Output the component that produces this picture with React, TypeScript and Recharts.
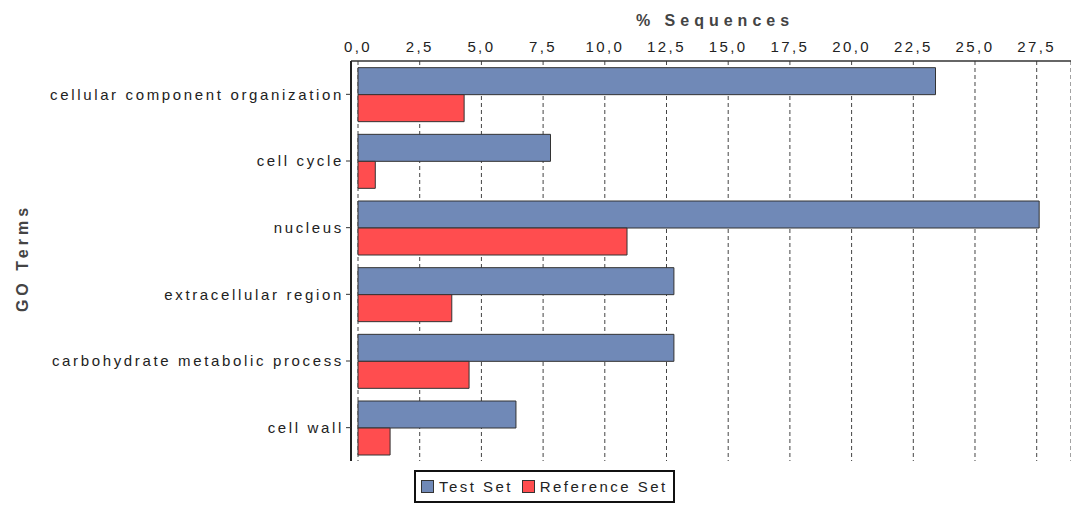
import React from 'react';
import { BarChart, Bar, XAxis, YAxis, CartesianGrid, Legend } from 'recharts';

// GO terms shown top to bottom
const goTerms: string[] = [
  'cellular component organization',
  'cell cycle',
  'nucleus',
  'extracellular region',
  'carbohydrate metabolic process',
  'cell wall',
];

// % of sequences in each set
const testSet: number[] = [23.4, 7.8, 27.6, 12.8, 12.8, 6.4];
const referenceSet: number[] = [4.3, 0.7, 10.9, 3.8, 4.5, 1.3];

const xTicks: number[] = [0, 2.5, 5, 7.5, 10, 12.5, 15, 17.5, 20, 22.5, 25, 27.5];

const TEST_COLOR = '#7089b7';
const REF_COLOR = '#ff4d4f';
const FONT = '"Liberation Sans", Arial, sans-serif';

const chartData = goTerms.map((name, i) => ({
  name,
  test: testSet[i],
  reference: referenceSet[i],
}));

const formatTick = (v: number) => v.toFixed(1).replace('.', ',');

const LegendBox = () => (
  <div
    style={{
      display: 'inline-flex',
      alignItems: 'center',
      border: '2px solid #111',
      padding: '6px 5px',
      background: '#fff',
      fontFamily: FONT,
      fontSize: 15,
      letterSpacing: 2.45,
      color: '#222',
      whiteSpace: 'nowrap',
    }}
  >
    <span style={{ width: 11, height: 11, background: TEST_COLOR, border: '1px solid #333', marginRight: 5 }} />
    <span style={{ marginRight: 9 }}>Test Set</span>
    <span style={{ width: 11, height: 11, background: REF_COLOR, border: '1px solid #333', marginRight: 5 }} />
    <span>Reference Set</span>
  </div>
);

export default function App() {
  return (
    <div style={{ position: 'absolute', left: 0, top: 0, width: 1071, height: 506, background: '#fff' }}>
      <BarChart
        width={1071}
        height={506}
        data={chartData}
        layout="vertical"
        barCategoryGap="10%"
        barGap={0}
        margin={{ top: 31, right: 0, left: 0, bottom: 45 }}
      >
        <CartesianGrid horizontal={false} stroke="#444" strokeDasharray="4 3" />
        <XAxis
          type="number"
          orientation="top"
          domain={[-0.284, 28.89]}
          ticks={xTicks}
          interval={0}
          tickFormatter={formatTick}
          allowDataOverflow
          height={30}
          tickLine={false}
          tickSize={4}
          tickMargin={5}
          axisLine={{ stroke: '#333', strokeWidth: 1.5 }}
          tick={{ fill: '#222', fontSize: 15, fontFamily: FONT, letterSpacing: 2.4 }}
          label={{
            value: '% Sequences',
            position: 'top',
            offset: 5,
            dx: 4,
            style: { fill: '#444', fontSize: 16, fontWeight: 'bold', fontFamily: FONT, letterSpacing: 5 },
          }}
        />
        <YAxis
          type="category"
          dataKey="name"
          width={351}
          interval={0}
          tickSize={5}
          tickMargin={2}
          tickLine={{ stroke: '#333' }}
          axisLine={{ stroke: '#222', strokeWidth: 2 }}
          tick={{ fill: '#222', fontSize: 15, fontFamily: FONT, letterSpacing: 2.65 }}
          label={{
            value: 'GO Terms',
            angle: -90,
            position: 'insideLeft',
            offset: 22,
            dy: -3,
            textAnchor: 'middle',
            style: { fill: '#444', fontSize: 16, fontWeight: 'bold', fontFamily: FONT, letterSpacing: 4 },
          }}
        />
        <Legend
          layout="horizontal"
          verticalAlign="middle"
          align="center"
          content={<LegendBox />}
          wrapperStyle={{ position: 'absolute', left: 414, top: 470, width: 'auto' }}
        />
        <Bar dataKey="test" name="Test Set" fill={TEST_COLOR} stroke="#333" strokeWidth={1} isAnimationActive={false} />
        <Bar dataKey="reference" name="Reference Set" fill={REF_COLOR} stroke="#333" strokeWidth={1} isAnimationActive={false} />
      </BarChart>
    </div>
  );
}
